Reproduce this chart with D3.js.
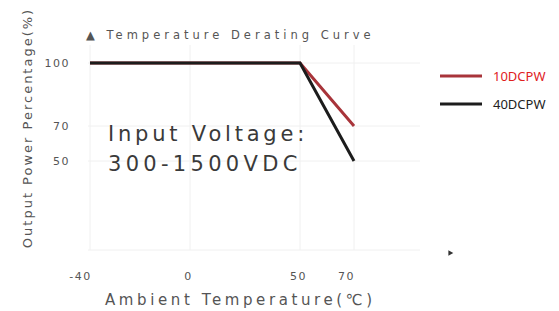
<!DOCTYPE html>
<html>
<head>
<meta charset="utf-8">
<script src="https://cdn.jsdelivr.net/npm/d3@7"></script>
<style>
  body{ margin:0; background:#fff; }
  svg text{ font-family:"DejaVu Sans", sans-serif; }
</style>
</head>
<body>
<div id="chart"></div>
<script>
// Tick values.
var x_ticks = [ -40, 0, 50, 70 ];
var y_ticks = [ 50, 70, 100 ];

// Derating curves, temperature vs output power percentage.
var series_names = [ '10DCPW', '40DCPW' ];
var temps = [ -40, 50, 70 ];
var power_10 = [ 100, 100, 70 ];
var power_40 = [ 100, 100, 50 ];
var series_colors = [ '#a8343a', '#1c1c1c' ];
var label_colors = [ '#e0201e', '#222' ];

var width = 559, height = 311;

var svg = d3.select( '#chart' )
  .append( 'svg' )
    .attr( 'width', width )
    .attr( 'height', height );

// The axes in the picture are not evenly spaced, so use piecewise scales.
var xScale = d3.scaleLinear()
  .domain( [ -40, 0, 50, 70 ] )
  .range( [ 90, 190, 300, 354 ] );
var yScale = d3.scaleLinear()
  .domain( [ 0, 50, 70, 100 ] )
  .range( [ 250, 161, 126, 63 ] );

// Faint grid.
var grid = svg.append( 'g' ).attr( 'stroke', '#f0f0f0' ).attr( 'stroke-width', 1 );
x_ticks.forEach( function( t ){
  grid.append( 'line' )
    .attr( 'x1', xScale( t ) ).attr( 'x2', xScale( t ) )
    .attr( 'y1', 45 ).attr( 'y2', yScale( 0 ) );
});
y_ticks.concat( [ 0 ] ).forEach( function( t ){
  grid.append( 'line' )
    .attr( 'x1', 88 ).attr( 'x2', 420 )
    .attr( 'y1', yScale( t ) ).attr( 'y2', yScale( t ) );
});

// X axis tick labels.
svg.append( 'g' )
  .attr( 'transform', 'translate(0,' + 272 + ')' )
  .call( d3.axisBottom( xScale ).tickValues( x_ticks ).tickFormat( function( d ){ return String( d ); } )
    .tickSize( 0 ).tickPadding( 0 ) )
  .call( function( g ){ g.select( '.domain' ).remove(); } )
  .selectAll( 'text' )
    .attr( 'dx', function( d ){ return d == -40 ? -10 : ( d == 70 ? -8 : -2 ); } )
    .attr( 'fill', '#555' )
    .style( 'font-size', '11px' )
    .style( 'letter-spacing', '1.5px' );

// Y axis tick labels.
svg.append( 'g' )
  .attr( 'transform', 'translate(' + 70 + ',0)' )
  .call( d3.axisLeft( yScale ).tickValues( y_ticks ).tickSize( 0 ).tickPadding( 0 ) )
  .call( function( g ){ g.select( '.domain' ).remove(); } )
  .selectAll( 'text' )
    .attr( 'fill', '#555' )
    .style( 'font-size', '11px' )
    .style( 'letter-spacing', '1.5px' );

// Curves.
var line = d3.line()
  .x( function( d ){ return xScale( d[0] ); } )
  .y( function( d ){ return yScale( d[1] ); } );

var all_series = [ power_10, power_40 ];
all_series.forEach( function( vals, i ){
  var pts = temps.map( function( t, j ){ return [ t, vals[j] ]; } );
  svg.append( 'path' )
    .attr( 'd', line( pts ) )
    .attr( 'fill', 'none' )
    .attr( 'stroke', series_colors[i] )
    .attr( 'stroke-width', 3 );
});

// Title.
svg.append( 'text' )
  .attr( 'x', 86 ).attr( 'y', 39 )
  .attr( 'fill', '#555' )
  .style( 'font-size', '11.5px' )
  .style( 'letter-spacing', '4px' )
  .text( '\u25B2 Temperature Derating Curve' );

// Input voltage note.
svg.append( 'text' )
  .attr( 'x', 108 ).attr( 'y', 141 )
  .attr( 'fill', '#3a3a3a' )
  .style( 'font-size', '21px' )
  .style( 'letter-spacing', '3.8px' )
  .text( 'Input Voltage:' );
svg.append( 'text' )
  .attr( 'x', 108 ).attr( 'y', 171 )
  .attr( 'fill', '#3a3a3a' )
  .style( 'font-size', '21px' )
  .style( 'letter-spacing', '4.3px' )
  .text( '300-1500VDC' );

// Axis titles.
svg.append( 'text' )
  .attr( 'transform', 'translate(32,' + 128 + ') rotate(-90)' )
  .attr( 'text-anchor', 'middle' )
  .attr( 'fill', '#555' )
  .style( 'font-size', '13px' )
  .style( 'letter-spacing', '2px' )
  .text( 'Output Power Percentage(%)' );
svg.append( 'text' )
  .attr( 'x', 105 ).attr( 'y', 305 )
  .attr( 'fill', '#555' )
  .style( 'font-size', '15px' )
  .style( 'letter-spacing', '3.6px' )
  .text( 'Ambient Temperature(\u2103)' );

// Small x axis arrow head.
svg.append( 'path' )
  .attr( 'd', d3.symbol( d3.symbolTriangle, 14 ) )
  .attr( 'transform', 'translate(450,253) rotate(90)' )
  .attr( 'fill', '#333' );

// Legend.
series_names.forEach( function( name, i ){
  var ly = 76 + i * 28;
  svg.append( 'line' )
    .attr( 'x1', 440 ).attr( 'x2', 482 )
    .attr( 'y1', ly ).attr( 'y2', ly )
    .attr( 'stroke', series_colors[i] )
    .attr( 'stroke-width', 3 );
  svg.append( 'text' )
    .attr( 'x', 493 ).attr( 'y', ly + 5 )
    .attr( 'fill', label_colors[i] )
    .style( 'font-family', '"Noto Sans", sans-serif' )
    .style( 'font-size', '13px' )
    .text( name );
});
</script>
</body>
</html>
